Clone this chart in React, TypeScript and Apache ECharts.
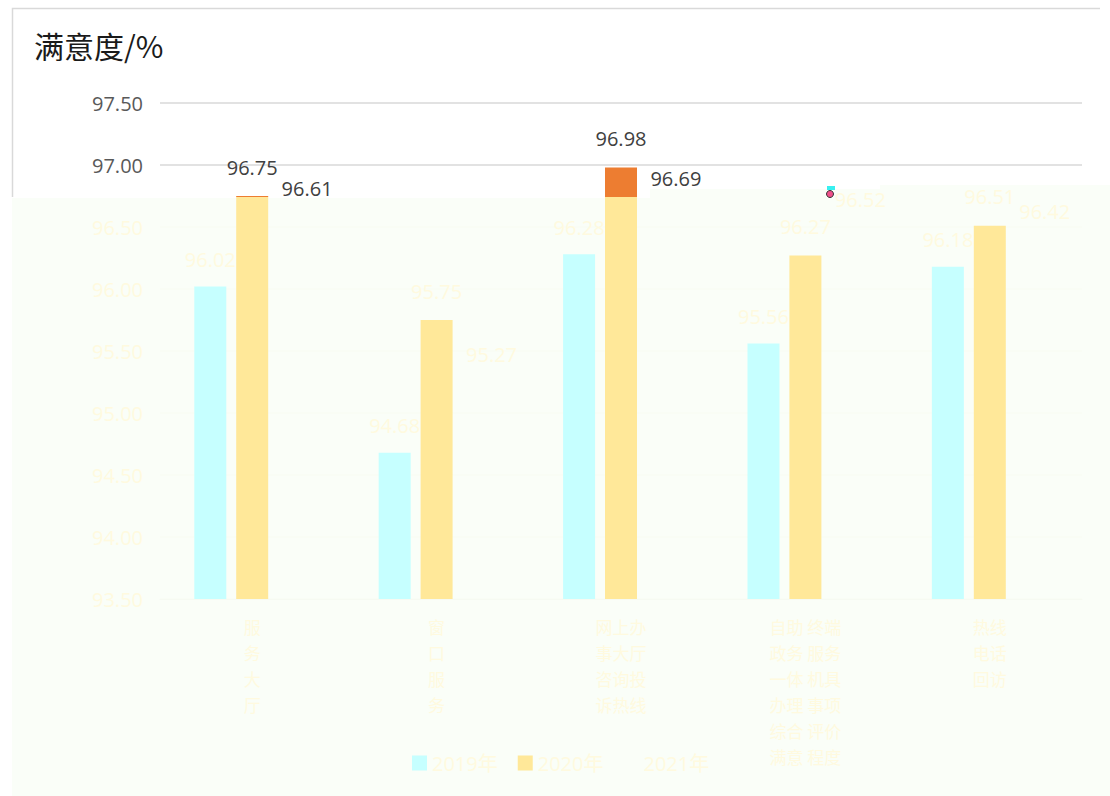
import React, { useEffect, useRef } from "react";
import * as echarts from "echarts";

const categories = [
  "服\n务\n大\n厅",
  "窗\n口\n服\n务",
  "网上办\n事大厅\n咨询投\n诉热线",
  "自助 终端\n政务 服务\n一体 机具\n办理 事项\n综合 评价\n满意 程度",
  "热线\n电话\n回访",
];
const legendNames = ["2019年", "2020年", "2021年"];
const seriesA = [96.02, 94.68, 96.28, 95.56, 96.18];
const seriesB = [96.75, 95.75, 96.98, 96.27, 96.51];
const seriesC = [96.61, 95.27, 96.69, 96.52, 96.42];
const darkLabelsB = [0, 2];
const darkLabelsC = [0, 2];
const yMin = 93.5;
const yMax = 97.5;
const yStep = 0.5;

const DARK = "#404040";
const WASHED_TEXT = "#FFFADF";
const BLUE_WASHED = "#C6FFFF";
const ORANGE = "#ED7D31";
const ORANGE_WASHED = "#FFE899";
const BG_WASHED = "#FAFEF8";
const BOUNDARY = 197;
const FONT = "'Open Sans', 'Noto Sans CJK SC', sans-serif";

export default function App() {
  const ref = useRef<HTMLDivElement>(null);
  useEffect(() => {
    if (!ref.current) return;
    const chart = echarts.init(ref.current, undefined, { renderer: "svg" });
    const H = 796;
    const orangeGrad = new echarts.graphic.LinearGradient(
      0, 0, 0, H,
      [
        { offset: 0, color: ORANGE },
        { offset: BOUNDARY / H, color: ORANGE },
        { offset: BOUNDARY / H, color: ORANGE_WASHED },
        { offset: 1, color: ORANGE_WASHED },
      ],
      true
    );
    const nTicks = Math.round((yMax - yMin) / yStep) + 1;
    const splitColors: string[] = [];
    for (let i = 0; i < nTicks; i++) {
      const v = yMin + i * yStep;
      splitColors.push(v >= 97 ? "#D9D9D9" : "#F8FCF5");
    }
    const labelOf = (darkIdx: number[]) => (v: number, i: number) => ({
      value: v,
      label: { color: darkIdx.includes(i) ? DARK : WASHED_TEXT },
    });
    chart.setOption({
      animation: false,
      backgroundColor: "#ffffff",
      textStyle: { fontFamily: FONT },
      grid: { left: 160, right: 28, top: 103, height: 496 },
      graphic: [
        {
          type: "polygon",
          z: -10,
          shape: {
            points: [
              [12, 198],
              [650, 198],
              [650, 189],
              [880, 189],
              [880, 185],
              [1110, 185],
              [1110, 796],
              [12, 796],
            ],
          },
          style: { fill: BG_WASHED },
        },
        {
          type: "polyline",
          z: -5,
          shape: { points: [[12.5, 197], [12.5, 8.5], [1100, 8.5]] },
          style: { stroke: "#D9D9D9", lineWidth: 1.5, fill: "none" },
        },
        {
          type: "text",
          left: 34,
          top: 30,
          style: {
            text: "满意度/%",
            fill: "#1a1a1a",
            font: "30px 'Noto Sans CJK SC', sans-serif",
          },
        },
        {
          type: "rect",
          z: 20,
          shape: { x: 827, y: 186, width: 8, height: 4 },
          style: { fill: "#38F0F0" },
        },
        {
          type: "circle",
          z: 20,
          shape: { cx: 830, cy: 194, r: 3.5 },
          style: { fill: "#F0508A", stroke: "#333", lineWidth: 1 },
        },
      ],
      legend: {
        left: 407,
        top: 748,
        itemWidth: 15,
        itemHeight: 15,
        itemGap: 20,
        icon: "rect",
        textStyle: { color: WASHED_TEXT, fontSize: 20, fontFamily: FONT },
        data: [
          { name: legendNames[0], itemStyle: { color: BLUE_WASHED } },
          { name: legendNames[1], itemStyle: { color: ORANGE_WASHED } },
          { name: legendNames[2], itemStyle: { color: "rgba(0,0,0,0)" } },
        ],
      },
      xAxis: {
        type: "category",
        data: categories,
        axisLine: { lineStyle: { color: "#F6FAF2" } },
        axisTick: { show: false },
        axisLabel: {
          interval: 0,
          margin: 14,
          color: WASHED_TEXT,
          fontSize: 17,
          lineHeight: 26,
          fontFamily: "'Noto Sans CJK SC', sans-serif",
        },
      },
      yAxis: {
        type: "value",
        min: yMin,
        max: yMax,
        interval: yStep,
        axisLine: { show: false },
        axisTick: { show: false },
        splitLine: { lineStyle: { color: splitColors, width: 1.5 } },
        axisLabel: {
          margin: 17,
          fontSize: 20,
          fontFamily: FONT,
          formatter: (v: number) => Number(v).toFixed(2),
          color: (v: any) => (parseFloat(v) >= 97 ? "#595959" : WASHED_TEXT),
        },
      },
      series: [
        {
          name: legendNames[0],
          type: "bar",
          barWidth: 32,
          barGap: "31%",
          itemStyle: { color: BLUE_WASHED },
          label: {
            show: true,
            position: "top",
            distance: 17,
            fontSize: 20,
            fontFamily: FONT,
            color: WASHED_TEXT,
            formatter: (p: any) => Number(p.value).toFixed(2),
          },
          data: seriesA,
        },
        {
          name: legendNames[1],
          type: "bar",
          barWidth: 32,
          barGap: "31%",
          itemStyle: { color: orangeGrad },
          label: {
            show: true,
            position: "top",
            distance: 19,
            fontSize: 20,
            fontFamily: FONT,
            formatter: (p: any) => Number(p.value).toFixed(2),
          },
          data: seriesB.map(labelOf(darkLabelsB)),
        },
        {
          name: legendNames[2],
          type: "bar",
          barWidth: 32,
          barGap: "31%",
          itemStyle: { color: "rgba(0,0,0,0)" },
          label: {
            show: true,
            position: "top",
            distance: 15,
            offset: [13, 0],
            fontSize: 20,
            fontFamily: FONT,
            formatter: (p: any) => Number(p.value).toFixed(2),
          },
          data: seriesC.map(labelOf(darkLabelsC)),
        },
      ],
    });
    return () => chart.dispose();
  }, []);
  return (
    <div
      ref={ref}
      style={{ position: "fixed", left: 0, top: 0, width: 1110, height: 796 }}
    />
  );
}
